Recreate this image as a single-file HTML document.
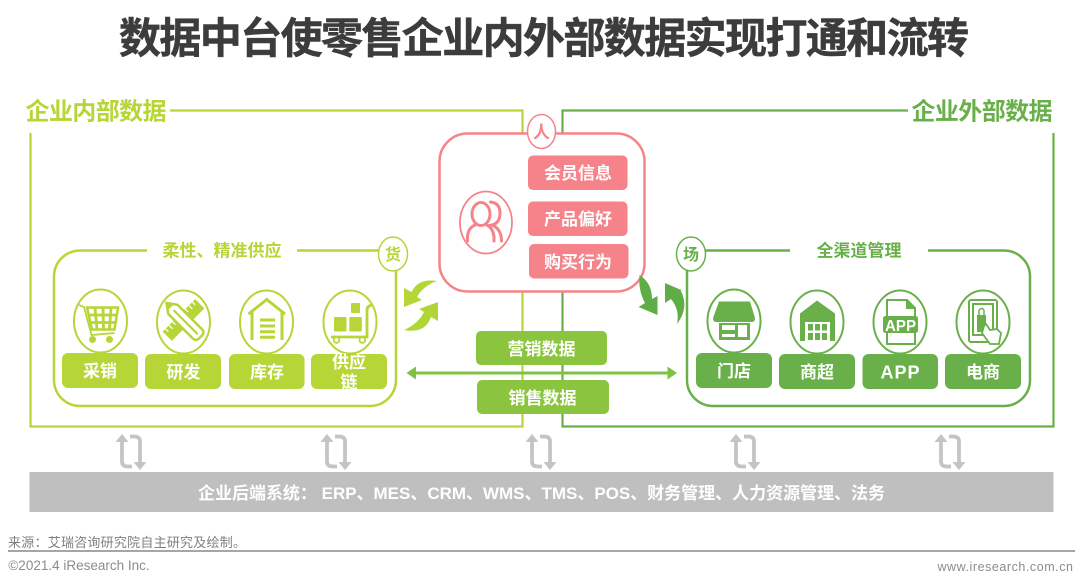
<!DOCTYPE html>
<html lang="zh"><head><meta charset="utf-8"><style>
html,body{margin:0;padding:0;background:#fff}
svg{display:block}
text{font-family:"Liberation Sans","Noto Sans CJK SC",sans-serif;text-anchor:middle}
.b{font-weight:700}
.w{fill:#fff;font-weight:700;font-size:17px}
</style></head><body>
<svg width="1080" height="587" viewBox="0 0 1080 587" xmlns="http://www.w3.org/2000/svg">
<rect width="1080" height="587" fill="#fff"/>
<text x="544" y="53" class="b" font-size="42" fill="#3c3c3c" stroke="#3c3c3c" stroke-width=".5" textLength="850" lengthAdjust="spacing">数据中台使零售企业内外部数据实现打通和流转</text>

<!-- frames -->
<path d="M30.500 133V426.500H522.500V110.500H170" fill="none" stroke="#b5d636" stroke-width="2.200"/>
<path d="M908 110.500H562.500V426.500H1053.500V133" fill="none" stroke="#69b04a" stroke-width="2.200"/>
<text x="96" y="119.500" class="b" font-size="24" fill="#b5d636" textLength="141" lengthAdjust="spacing">企业内部数据</text>
<text x="982" y="119.500" class="b" font-size="24" fill="#69b04a" textLength="141" lengthAdjust="spacing">企业外部数据</text>

<!-- left panel -->
<path d="M147 250.500H80A26 26 0 0 0 54 276.500V380A26 26 0 0 0 80 406H370A26 26 0 0 0 396 380V262Q396 250.500 382 250.500H297" fill="none" stroke="#b5d636" stroke-width="2.500"/>
<text x="222" y="256.500" class="b" font-size="17" fill="#b5d636">柔性、精准供应</text>
<ellipse cx="393" cy="254" rx="14.500" ry="17" fill="#fff" stroke="#b5d636" stroke-width="1.500"/>
<text x="393" y="260" class="b" font-size="16" fill="#b5d636">货</text>

<!-- right panel -->
<path d="M790 250.500H708Q687 250.500 687 266V380A26 26 0 0 0 713 406H1004A26 26 0 0 0 1030 380V276.500A26 26 0 0 0 1004 250.500H928" fill="none" stroke="#69b04a" stroke-width="2.500"/>
<text x="859" y="256.500" class="b" font-size="17" fill="#69b04a">全渠道管理</text>
<ellipse cx="691" cy="254" rx="14.500" ry="17" fill="#fff" stroke="#69b04a" stroke-width="1.500"/>
<text x="691" y="260" class="b" font-size="16" fill="#69b04a">场</text>

<!-- left ovals -->
<g fill="#fff" stroke="#b5d636" stroke-width="2">
<ellipse cx="100.500" cy="321" rx="26.500" ry="31.500"/>
<ellipse cx="183.500" cy="322" rx="26.500" ry="31.500"/>
<ellipse cx="266.500" cy="322" rx="26.500" ry="31.500"/>
<ellipse cx="350" cy="322" rx="26.500" ry="31.500"/>
</g>
<!-- cart -->
<g fill="none" stroke="#b5d636">
<path d="M79 305L84 307L91.500 335L114.500 333" stroke-width="1.800"/>
<path d="M87 307.500H118L114.500 329.500H92Z" stroke-width="2.500"/>
<path d="M89 315H117M91 322.500H115.500M95 308L97 329M103 308L103.500 329M111 308L109.500 329" stroke-width="2.800"/>
</g>
<circle cx="92.500" cy="339.500" r="3.500" fill="#b5d636"/><circle cx="109.500" cy="339.500" r="3.500" fill="#b5d636"/>
<!-- pencil ruler -->
<g transform="translate(183.500 320)">
<g transform="rotate(-45)"><rect x="-23" y="-6.500" width="46" height="13" fill="#b5d636"/><path d="M-19 -6.500v4M-14 -6.500v5M-9 -6.500v4M9 -6.500v4M14 -6.500v5M19 -6.500v4" stroke="#fff" stroke-width="1.300"/></g>
<g transform="rotate(45)"><path d="M-24 0L-15 -6.500H20A4 4 0 0 1 24 -2.500V2.500A4 4 0 0 1 20 6.500H-15Z" fill="#fff" stroke="#b5d636" stroke-width="2.500"/><path d="M-14 0H20" stroke="#b5d636" stroke-width="2.200"/><path d="M-24 0L-18 -3.500V3.500Z" fill="#b5d636"/></g>
</g>
<!-- warehouse -->
<g fill="none" stroke="#b5d636" stroke-width="3">
<path d="M248.500 314L266.700 299.500L285 314M252 312V340M282 312V340" stroke-width="3"/>
<path d="M260 320H275M260 326H275M260 331.700H275M260 337.300H275"/>
</g>
<!-- trolley -->
<g fill="#b5d636">
<rect x="334" y="317" width="12.500" height="14.500" rx="1"/><rect x="349.300" y="317" width="12.500" height="14.500" rx="1"/><rect x="351" y="303" width="9" height="10" rx="1"/>
</g>
<path d="M331 337H367V310Q367 306 372 305" fill="none" stroke="#b5d636" stroke-width="2.800"/>
<circle cx="336.500" cy="340" r="2.800" fill="#fff" stroke="#b5d636" stroke-width="1.800"/><circle cx="362.300" cy="340" r="2.800" fill="#fff" stroke="#b5d636" stroke-width="1.800"/>

<!-- left buttons -->
<g fill="#b5d636">
<rect x="62" y="353" width="76" height="35" rx="6"/>
<rect x="145" y="354" width="76" height="35" rx="6"/>
<rect x="229" y="354" width="75.500" height="35" rx="6"/>
<rect x="311" y="354" width="76" height="35" rx="6"/>
</g>
<text x="100" y="377" class="w">采销</text>
<text x="183.500" y="378" class="w">研发</text>
<text x="267" y="378" class="w">库存</text>
<text x="349" y="368" class="w">供应</text>
<text x="349" y="388" class="w">链</text>

<!-- right ovals -->
<g fill="#fff" stroke="#69b04a" stroke-width="2">
<ellipse cx="734" cy="321" rx="26.500" ry="31.500"/>
<ellipse cx="817" cy="322" rx="26.500" ry="31.500"/>
<ellipse cx="900" cy="322" rx="26.500" ry="31.500"/>
<ellipse cx="983" cy="322" rx="26.500" ry="31.500"/>
</g>
<!-- store -->
<path d="M719 301.500H750L755 318Q755 322 752 322H716Q713 322 713 318Z" fill="#69b04a"/>
<path d="M719 323H750V340H719Z" fill="#69b04a"/><rect x="722" y="325" width="13" height="5" fill="#fff"/><rect x="722" y="334" width="13" height="3" fill="#fff"/><rect x="738" y="325" width="9" height="12" fill="#fff"/>
<!-- supermarket -->
<path d="M800 313.500L817 300.500L835 313.500V341H830V322H805V341H800Z" fill="#69b04a"/>
<g fill="#69b04a"><rect x="808" y="324" width="5" height="6.500"/><rect x="815" y="324" width="5" height="6.500"/><rect x="822" y="324" width="5" height="6.500"/><rect x="808" y="333" width="5" height="7"/><rect x="815" y="333" width="5" height="7"/><rect x="822" y="333" width="5" height="7"/></g>
<!-- app -->
<path d="M887 316V300H907L915 308V316M887 333V344H915V333" fill="none" stroke="#69b04a" stroke-width="2"/>
<path d="M906 300V309H915Z" fill="#69b04a"/>
<rect x="883" y="316" width="35" height="17" rx="2.500" fill="#69b04a"/>
<text x="900.500" y="331" class="b" font-size="16" fill="#fff" textLength="31" lengthAdjust="spacingAndGlyphs">APP</text>
<!-- tablet -->
<g fill="none" stroke="#69b04a" stroke-width="2">
<rect x="969" y="300" width="28" height="42" rx="2"/>
<rect x="973" y="304" width="20" height="31"/>
</g>
<path d="M977 315H986V332H977Z" fill="#69b04a"/><path d="M979 315V311A2.500 2.500 0 0 1 984 311V315" fill="none" stroke="#69b04a" stroke-width="1.500"/>
<path d="M984 326L986 324L990 330L997 329L1001 333L999 344H990L982 333Z" fill="#fff" stroke="#69b04a" stroke-width="1.800"/>

<!-- right buttons -->
<g fill="#69b04a">
<rect x="696" y="353" width="76" height="35" rx="6"/>
<rect x="779" y="354" width="76" height="35" rx="6"/>
<rect x="862.500" y="354" width="75.500" height="35" rx="6"/>
<rect x="945" y="354" width="76" height="35" rx="6"/>
</g>
<text x="734" y="377" class="w">门店</text>
<text x="817" y="378" class="w">商超</text>
<text x="900.500" y="378.500" class="b" font-size="18" fill="#fff" letter-spacing="1">APP</text>
<text x="983" y="378" class="w">电商</text>

<!-- pink panel -->
<rect x="439.500" y="133.500" width="205" height="158" rx="28" fill="#fff" stroke="#f58389" stroke-width="2.500"/>
<ellipse cx="541.500" cy="131.500" rx="14" ry="17" fill="#fff" stroke="#f58389" stroke-width="1.500"/>
<text x="541.500" y="138" class="b" font-size="17" fill="#f58389">人</text>
<ellipse cx="486" cy="222.500" rx="26" ry="31" fill="#fff" stroke="#f58389" stroke-width="1.800"/>
<g fill="none" stroke="#f58389" stroke-width="3" stroke-linecap="round">
<ellipse cx="481" cy="214" rx="9" ry="11.500"/>
<path d="M467.500 241V237Q468 228 475 225M494 241V237Q493 228 487 225"/>
<path d="M490.500 202Q500 203 500 213T492 225Q501.500 229 501.500 241"/>
</g>
<g fill="#f58389">
<rect x="528" y="155.500" width="99.500" height="34.500" rx="5"/>
<rect x="528" y="201.500" width="99.500" height="34.500" rx="5"/>
<rect x="529" y="244" width="99.500" height="34.500" rx="5"/>
</g>
<text x="578" y="179" class="w">会员信息</text>
<text x="578" y="225" class="w">产品偏好</text>
<text x="578" y="268" class="w">购买行为</text>

<!-- cycle arrows left -->
<path d="M437 281Q418 278 411.500 292L404 288V307L422 300L417 297Q423 286 437 281Z" fill="#b5d636"/>
<path d="M404 330Q425 334 431 317L438 321V302L419 309L424 312Q418 324 404 330Z" fill="#b0d536"/>
<!-- cycle arrows right -->
<path d="M639.500 275Q652 283 652 299L657.500 296V315L638.500 307L645 303Q638 290 639.500 275Z" fill="#5fae45"/>
<path d="M677 324Q690 307 680 289L683.500 291L665 283V303L671 299Q680 310 677 324Z" fill="#5fae45"/>

<!-- middle -->
<rect x="476" y="331" width="131" height="34" rx="5" fill="#8bc53f"/>
<rect x="477" y="380" width="132" height="34" rx="5" fill="#8bc53f"/>
<path d="M412 373H672" stroke="#7fc243" stroke-width="3"/>
<path d="M406.500 373L416 366.500V379.500ZM677 373L667.500 366.500V379.500Z" fill="#7fc243"/>
<text x="541.500" y="355" class="w">营销数据</text>
<text x="542.500" y="404" class="w">销售数据</text>

<!-- gray arrows -->
<defs><g id="ar">
<path d="M-9 -12V10Q-9 15 -3 15H1M9 12V-10Q9 -15 3 -15H-1" fill="none" stroke="#c4c4c4" stroke-width="3.800"/>
<path d="M-9 -17.500L-15.500 -9.500H-2.500ZM9 18.500L15.500 10.500H2.500Z" fill="#c4c4c4"/></g></defs>
<use href="#ar" x="131" y="451.500"/><use href="#ar" x="336" y="451.500"/><use href="#ar" x="541" y="451.500"/><use href="#ar" x="745" y="451.500"/><use href="#ar" x="950" y="451.500"/>

<!-- bar -->
<rect x="29.500" y="472" width="1024" height="40" fill="#bfbfbf"/>
<text x="541.500" y="499" class="b" font-size="17" fill="#fff" xml:space="preserve" textLength="687" lengthAdjust="spacing">企业后端系统： ERP、MES、CRM、WMS、TMS、POS、财务管理、人力资源管理、法务</text>

<!-- footer -->
<text x="127" y="547" font-size="13" fill="#7f7f7f" textLength="238" lengthAdjust="spacing">来源：艾瑞咨询研究院自主研究及绘制。</text>
<rect x="8" y="550" width="1067" height="2" fill="#a6a6a6"/>
<text x="79" y="570" font-size="13.500" fill="#8c8c8c">©2021.4 iResearch Inc.</text>
<text x="1005.500" y="571" font-size="12.500" fill="#8c8c8c" letter-spacing=".55">www.iresearch.com.cn</text>
</svg>
</body></html>
